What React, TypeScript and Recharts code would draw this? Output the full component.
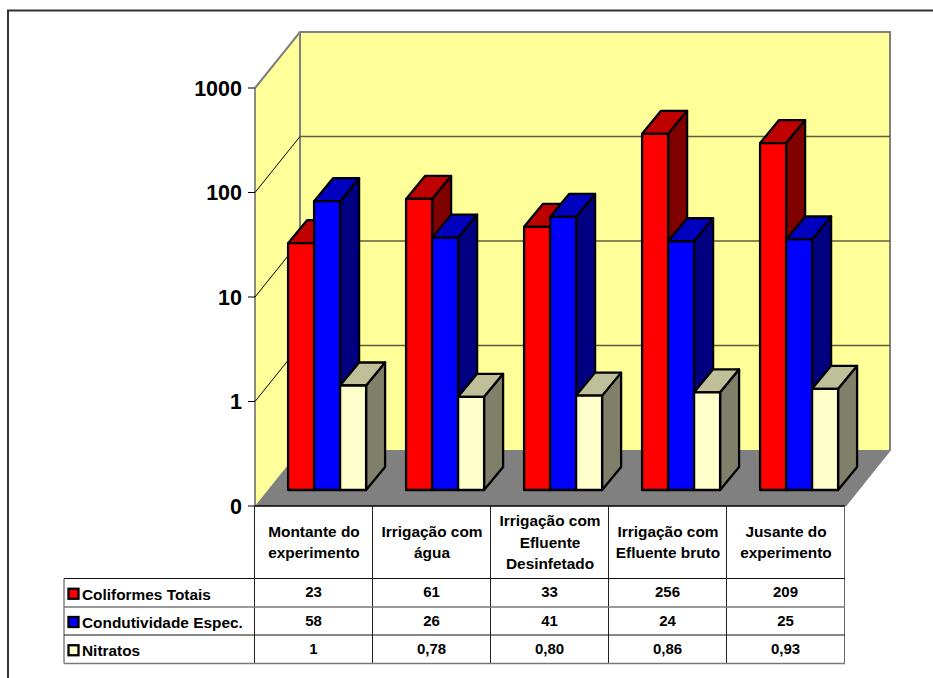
import React from "react";
import { BarChart, Bar, XAxis, YAxis, CartesianGrid } from "recharts";

const categories = [
  "Montante do\nexperimento",
  "Irrigação com\nágua",
  "Irrigação com\nEfluente\nDesinfetado",
  "Irrigação com\nEfluente bruto",
  "Jusante do\nexperimento",
];
const seriesNames = ["Coliformes Totais", "Condutividade Espec.", "Nitratos"];
const coliformes = [23, 61, 33, 256, 209];
const condutividade = [58, 26, 41, 24, 25];
const nitratos = [1, 0.78, 0.8, 0.86, 0.93];
const logTicks = [0.1, 1, 10, 100, 1000];

const seriesKeys = ["coliformes", "condutividade", "nitratos"];
const tableText = [
  ["23", "61", "33", "256", "209"],
  ["58", "26", "41", "24", "25"],
  ["1", "0,78", "0,80", "0,86", "0,93"],
];

// front, top and side faces of each series
const faces = [
  { front: "#FF0000", top: "#BF0000", side: "#800000" },
  { front: "#0000FF", top: "#0000BF", side: "#000080" },
  { front: "#FFFFCC", top: "#BFBF99", side: "#80806A" },
];

const data = categories.map((name, i) => ({
  name,
  coliformes: coliformes[i],
  condutividade: condutividade[i],
  nitratos: nitratos[i],
}));

const WIDTH = 933;
const HEIGHT = 678;
const LEFT = 255;
const RIGHT = 845;
const TOP = 88;
const BOTTOM = 506;
const AXIS_W = 60;
const LABEL_H = 72;

// back wall is pushed up and right from the front plane
const WALL_DX = 45;
const WALL_DY = 56;
// bars stand partway into the floor, with their own depth
const BAR_DX = 13.5;
const BAR_DY = -16;
const DEPTH_X = 19;
const DEPTH_Y = 23;

const FONT = "'Liberation Sans', Arial, sans-serif";

function Bar3D(props: any) {
  const { x, y, width, height, face } = props;
  const l = x + BAR_DX;
  const r = l + width;
  const t = y + BAR_DY;
  const b = t + height;
  const stroke = { stroke: "#000", strokeWidth: 2.3, strokeLinejoin: "round" as const };
  return (
    <g>
      <polygon
        points={`${r},${t} ${r + DEPTH_X},${t - DEPTH_Y} ${r + DEPTH_X},${b - DEPTH_Y} ${r},${b}`}
        fill={face.side}
        {...stroke}
      />
      <polygon
        points={`${l},${t} ${l + DEPTH_X},${t - DEPTH_Y} ${r + DEPTH_X},${t - DEPTH_Y} ${r},${t}`}
        fill={face.top}
        {...stroke}
      />
      <rect x={l} y={t} width={width} height={height} fill={face.front} {...stroke} />
    </g>
  );
}

function WallGridLine(props: any) {
  const { x1, y1, index } = props;
  if (index === 0 || index === logTicks.length - 1) return <g />;
  const backY = y1 - WALL_DY;
  return (
    <g>
      <line x1={x1} y1={y1} x2={x1 + WALL_DX} y2={backY} stroke="#000" strokeWidth={1} />
      <line x1={x1 + WALL_DX} y1={backY} x2={RIGHT + WALL_DX} y2={backY} stroke="#5e5e40" strokeWidth={1.5} />
    </g>
  );
}

function ValueTick(props: any) {
  const { y, payload } = props;
  return (
    <g>
      <line x1={LEFT - 7} y1={y} x2={LEFT} y2={y} stroke="#000" strokeWidth={1} />
      <text
        x={242}
        y={y + 7.5}
        textAnchor="end"
        fontFamily={FONT}
        fontWeight="bold"
        fontSize={21.5}
        fill="#000"
      >
        {payload.value < 1 ? "0" : payload.value}
      </text>
    </g>
  );
}

function CategoryTick(props: any) {
  const { x, payload } = props;
  const lines = String(payload.value).split("\n");
  const startY = BOTTOM + LABEL_H / 2 - ((lines.length - 1) * 21.5) / 2 + 5.5;
  return (
    <text textAnchor="middle" fontFamily={FONT} fontWeight="bold" fontSize={15.4} fill="#000">
      {lines.map((line, i) => (
        <tspan key={i} x={x} y={startY + i * 21.5}>
          {line}
        </tspan>
      ))}
    </text>
  );
}

// yellow walls and grey floor behind the plot
function Room() {
  const backL = LEFT + WALL_DX;
  const backR = RIGHT + WALL_DX;
  const backT = TOP - WALL_DY;
  const backB = BOTTOM - WALL_DY;
  return (
    <svg width={WIDTH} height={HEIGHT} style={{ position: "absolute", left: 0, top: 0 }}>
      <path d={`M8 ${HEIGHT}V10.5H${WIDTH}`} fill="none" stroke="#333" strokeWidth={2} />
      <polygon points={`${backL},${backT} ${backR},${backT} ${backR},${backB} ${backL},${backB}`} fill="#FFFF99" />
      <polygon points={`${LEFT},${TOP} ${backL},${backT} ${backL},${backB} ${LEFT},${BOTTOM}`} fill="#FFFF99" />
      <polygon points={`${LEFT},${BOTTOM} ${backL},${backB} ${backR},${backB} ${RIGHT},${BOTTOM}`} fill="#808080" />
      <path
        d={`M${LEFT} ${TOP}L${backL} ${backT}H${backR}V${backB}L${RIGHT} ${BOTTOM}`}
        fill="none"
        stroke="#808080"
        strokeWidth={2}
      />
      <line x1={backL} y1={backT} x2={backL} y2={backB} stroke="#808080" strokeWidth={2} />
      <line x1={LEFT} y1={TOP} x2={LEFT} y2={BOTTOM} stroke="#666" strokeWidth={1.5} />
    </svg>
  );
}

// data table under the plot, with the series keys in its first column
function DataTable() {
  const colW = (RIGHT - LEFT) / categories.length;
  const rowY = [578.5, 607, 635, 663.5];
  const keyLeft = 64;
  return (
    <svg width={WIDTH} height={HEIGHT} style={{ position: "absolute", left: 0, top: 0 }} fontFamily={FONT} fontWeight="bold">
      {categories.map((_, i) => (
        <line
          key={i}
          x1={LEFT + i * colW - 0.5}
          y1={BOTTOM}
          x2={LEFT + i * colW - 0.5}
          y2={rowY[3]}
          stroke="#222"
          strokeWidth={1}
        />
      ))}
      <line x1={RIGHT - 0.5} y1={BOTTOM} x2={RIGHT - 0.5} y2={rowY[3]} stroke="#666" strokeWidth={1} />
      <line x1={keyLeft} y1={rowY[0]} x2={keyLeft} y2={rowY[3]} stroke="#444" strokeWidth={1} />
      {rowY.map((y, i) => (
        <line
          key={i}
          x1={keyLeft}
          y1={y}
          x2={RIGHT}
          y2={y}
          stroke={i % 2 === 1 ? "#777" : "#111"}
          strokeWidth={i % 2 === 1 ? 1.5 : 1}
        />
      ))}
      {seriesNames.map((name, r) => {
        const mid = (rowY[r] + rowY[r + 1]) / 2;
        return (
          <g key={name}>
            <rect x={68.5} y={mid - 4} width={10} height={10} fill={faces[r].front} stroke="#000" strokeWidth={2.3} />
            <text x={82} y={mid + 7} fontSize={15.4} fill="#000">
              {name}
            </text>
            {tableText[r].map((txt, c) => (
              <text key={c} x={LEFT + c * colW + colW / 2 - 0.5} y={mid + 4.5} textAnchor="middle" fontSize={15} fill="#000">
                {txt}
              </text>
            ))}
          </g>
        );
      })}
    </svg>
  );
}

export default function App() {
  return (
    <div style={{ position: "absolute", left: 0, top: 0, width: WIDTH, height: HEIGHT, background: "#fff", overflow: "hidden" }}>
      <Room />
      <div style={{ position: "absolute", left: 0, top: 0 }}>
        <BarChart
          width={WIDTH}
          height={HEIGHT}
          data={data}
          barGap={0}
          barCategoryGap="16.6%"
          margin={{ top: TOP, right: WIDTH - RIGHT, bottom: HEIGHT - BOTTOM - LABEL_H, left: LEFT - AXIS_W }}
        >
          <CartesianGrid vertical={false} horizontal={(p: any) => <WallGridLine {...p} />} />
          <XAxis
            dataKey="name"
            height={LABEL_H}
            interval={0}
            tickLine={false}
            axisLine={{ stroke: "#000", strokeWidth: 1.5 }}
            tick={(p: any) => <CategoryTick {...p} />}
          />
          <YAxis
            width={AXIS_W}
            scale="log"
            domain={[0.1, 1000]}
            ticks={logTicks}
            interval={0}
            allowDataOverflow
            tickLine={false}
            axisLine={false}
            tick={(p: any) => <ValueTick {...p} />}
          />
          {seriesKeys.map((key, i) => (
            <Bar
              key={key}
              dataKey={key}
              isAnimationActive={false}
              shape={(p: any) => <Bar3D {...p} face={faces[i]} />}
            />
          ))}
        </BarChart>
      </div>
      <DataTable />
    </div>
  );
}
